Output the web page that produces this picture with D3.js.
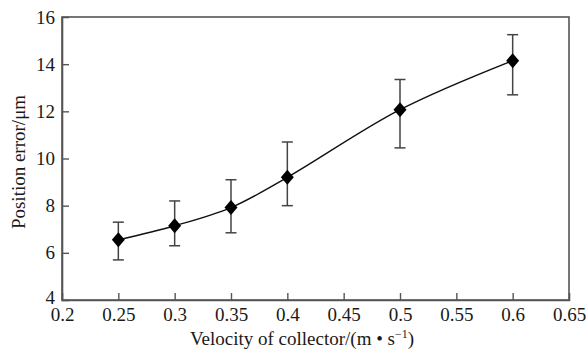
<!DOCTYPE html>
<html><head><meta charset="utf-8">
<script src="https://cdn.jsdelivr.net/npm/d3@7"></script>
<style>body{margin:0;background:#fff}svg{display:block}text{font-family:"Liberation Serif","Times New Roman",serif}</style>
</head><body>
<svg id="c" width="587" height="358" font-family="Liberation Serif"></svg>
<script>
const velocities = [0.25, 0.3, 0.35, 0.4, 0.5, 0.6];
const errorMean = [6.55, 7.15, 7.92, 9.2, 12.07, 14.15];
const errorHigh = [7.3, 8.2, 9.1, 10.7, 13.35, 15.25];
const errorLow = [5.7, 6.3, 6.85, 8.0, 10.45, 12.7];
const xTicks = [0.2, 0.25, 0.3, 0.35, 0.4, 0.45, 0.5, 0.55, 0.6, 0.65];
const yTicks = [4, 6, 8, 10, 12, 14, 16];
const xTitle = "Velocity of collector/(m \u2022 s";
const yTitle = "Position error/μm";

const svg = d3.select("#c");
const L = 62, R = 569, T = 17, B = 300;
const x = d3.scaleLinear().domain([0.2, 0.65]).range([L, R]);
const y = d3.scaleLinear().domain([4, 16]).range([B, T]);
const font = "Liberation Serif";
const frame = "#555";

svg.append("rect").attr("x", L).attr("y", T).attr("width", R - L).attr("height", B - T)
  .attr("fill", "none").attr("stroke", frame).attr("stroke-width", 1.6);

const xa = svg.append("g").attr("transform", `translate(0,${B})`)
  .call(d3.axisBottom(x).tickValues(xTicks).tickSize(-7).tickPadding(8).tickFormat(d => d3.format("")(d)));
const ya = svg.append("g").attr("transform", `translate(${L},0)`)
  .call(d3.axisLeft(y).tickValues(yTicks).tickSize(-7).tickPadding(7));
[xa, ya].forEach(g => {
  g.attr("font-family", font).attr("font-size", 19);
  g.select(".domain").attr("stroke", frame).attr("stroke-width", 1.6);
  g.selectAll(".tick line").attr("stroke", frame).attr("stroke-width", 1.4);
  g.selectAll(".tick text").attr("fill", "#1a1a1a");
});
xa.selectAll(".tick").filter(d => d === 0.2 || d === 0.65).select("line").remove();
ya.selectAll(".tick").filter(d => d === 4 || d === 16).select("line").remove();
ya.selectAll(".tick").filter(d => d === 4).select("text").attr("dy", "0.2em");

const data = velocities.map((v, i) => ({v, m: errorMean[i], hi: errorHigh[i], lo: errorLow[i]}));

const eb = svg.append("g").attr("stroke", "#444").attr("stroke-width", 1.5);
data.forEach(d => {
  eb.append("line").attr("x1", x(d.v)).attr("x2", x(d.v)).attr("y1", y(d.hi)).attr("y2", y(d.lo));
  eb.append("line").attr("x1", x(d.v) - 5.5).attr("x2", x(d.v) + 5.5).attr("y1", y(d.hi)).attr("y2", y(d.hi));
  eb.append("line").attr("x1", x(d.v) - 5.5).attr("x2", x(d.v) + 5.5).attr("y1", y(d.lo)).attr("y2", y(d.lo));
});

svg.append("path").datum(data)
  .attr("d", d3.line().x(d => x(d.v)).y(d => y(d.m)).curve(d3.curveCatmullRom.alpha(0.5)))
  .attr("fill", "none").attr("stroke", "#111").attr("stroke-width", 1.4);

svg.append("g").selectAll("path").data(data).join("path")
  .attr("transform", d => `translate(${x(d.v)},${y(d.m)})`)
  .attr("d", "M0,-7.5L6.5,0L0,7.5L-6.5,0Z").attr("fill", "#000");

const xt = svg.append("text").attr("x", 302).attr("y", 345).attr("text-anchor", "middle")
  .attr("fill", "#1a1a1a").attr("font-family", font).attr("font-size", 19);
xt.append("tspan").text(xTitle);
xt.append("tspan").attr("dy", -7).attr("font-size", 12).text("\u22121");
xt.append("tspan").attr("dy", 7).text(")");

svg.append("text").attr("transform", "translate(25,162) rotate(-90)").attr("text-anchor", "middle")
  .attr("fill", "#1a1a1a").attr("font-family", font).attr("font-size", 19).text(yTitle);
</script>
</body></html>
